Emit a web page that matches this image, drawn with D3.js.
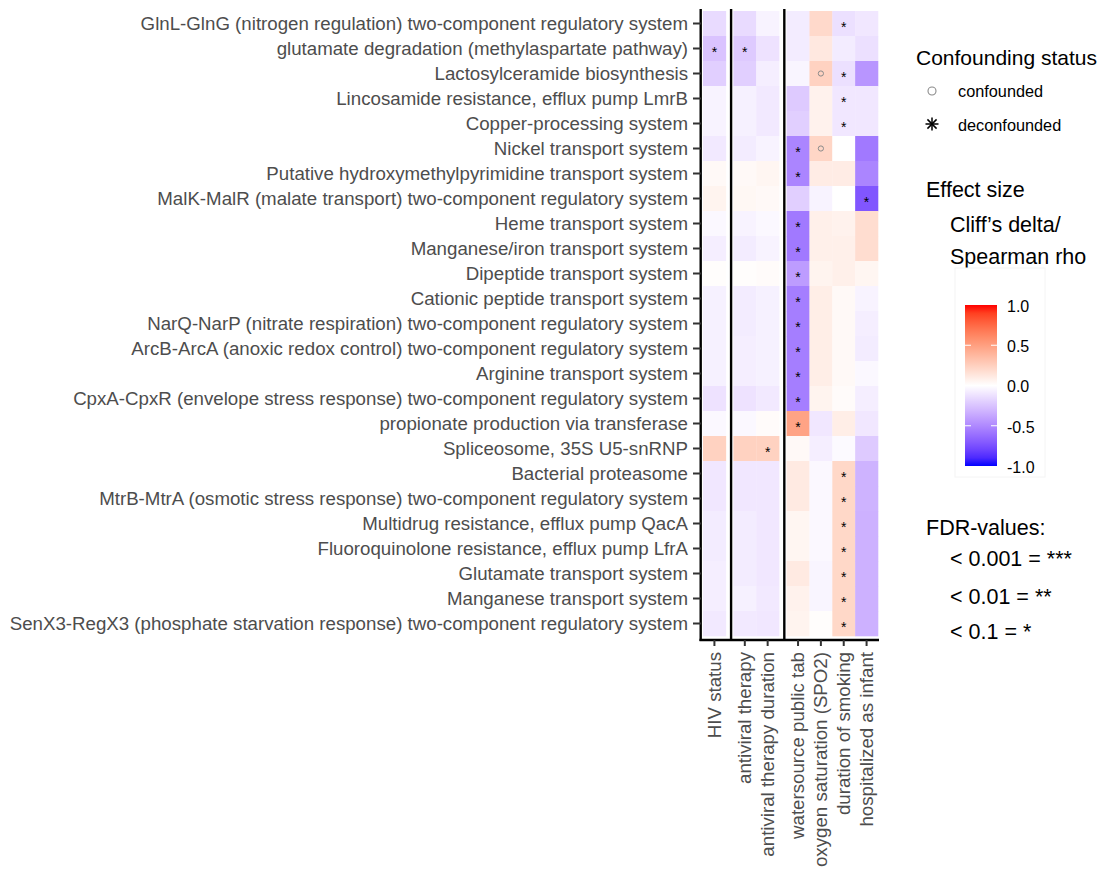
<!DOCTYPE html>
<html>
<head>
<meta charset="utf-8">
<script src="https://cdn.jsdelivr.net/npm/d3@7"></script>
<style>
  body { margin: 0; background: #fff; }
  text { font-family: "Liberation Sans", Arial, Helvetica, sans-serif; }
</style>
</head>
<body>
<div id="chart"></div>
<script>
var rowLabels = [
  "GlnL-GlnG (nitrogen regulation) two-component regulatory system",
  "glutamate degradation (methylaspartate pathway)",
  "Lactosylceramide biosynthesis",
  "Lincosamide resistance, efflux pump LmrB",
  "Copper-processing system",
  "Nickel transport system",
  "Putative hydroxymethylpyrimidine transport system",
  "MalK-MalR (malate transport) two-component regulatory system",
  "Heme transport system",
  "Manganese/iron transport system",
  "Dipeptide transport system",
  "Cationic peptide transport system",
  "NarQ-NarP (nitrate respiration) two-component regulatory system",
  "ArcB-ArcA (anoxic redox control) two-component regulatory system",
  "Arginine transport system",
  "CpxA-CpxR (envelope stress response) two-component regulatory system",
  "propionate production via transferase",
  "Spliceosome, 35S U5-snRNP",
  "Bacterial proteasome",
  "MtrB-MtrA (osmotic stress response) two-component regulatory system",
  "Multidrug resistance, efflux pump QacA",
  "Fluoroquinolone resistance, efflux pump LfrA",
  "Glutamate transport system",
  "Manganese transport system",
  "SenX3-RegX3 (phosphate starvation response) two-component regulatory system"
];

var colLabels = [
  "HIV status",
  "antiviral therapy",
  "antiviral therapy duration",
  "watersource public tab",
  "oxygen saturation (SPO2)",
  "duration of smoking",
  "hospitalized as infant"
];

// facet panel of each column
var colGroups = [0, 1, 1, 2, 2, 2, 2];

// effect size (Cliff's delta / Spearman rho), one row per feature, columns as colLabels
var effect = [
  [-0.15, -0.15, -0.05, -0.08,  0.20, -0.13, -0.10],
  [-0.25, -0.22, -0.12, -0.08,  0.12, -0.08, -0.13],
  [-0.20, -0.20, -0.07, -0.04,  0.24, -0.13, -0.45],
  [-0.05, -0.06, -0.09, -0.22,  0.07, -0.10, -0.10],
  [-0.05, -0.06, -0.09, -0.20,  0.07, -0.10, -0.10],
  [-0.09, -0.08, -0.05, -0.52,  0.22,  0.00, -0.57],
  [ 0.03,  0.03,  0.05, -0.52,  0.10,  0.10, -0.52],
  [ 0.06,  0.04,  0.03, -0.20, -0.05,  0.00, -0.72],
  [-0.03, -0.05, -0.03, -0.57,  0.08,  0.07,  0.18],
  [-0.07, -0.08, -0.05, -0.57,  0.08,  0.08,  0.18],
  [ 0.01,  0.01,  0.02, -0.42,  0.06,  0.08,  0.05],
  [-0.06, -0.08, -0.06, -0.55,  0.09,  0.03, -0.05],
  [-0.06, -0.08, -0.06, -0.55,  0.09,  0.03, -0.07],
  [-0.06, -0.07, -0.06, -0.55,  0.09,  0.03, -0.08],
  [-0.06, -0.07, -0.06, -0.55,  0.09,  0.03, -0.03],
  [-0.12, -0.12, -0.09, -0.55,  0.06,  0.02, -0.07],
  [-0.03, -0.03,  0.02,  0.48, -0.10,  0.09, -0.10],
  [ 0.24,  0.24,  0.24,  0.03, -0.07, -0.02, -0.22],
  [-0.10, -0.10, -0.10,  0.11, -0.03,  0.21, -0.32],
  [-0.10, -0.10, -0.10,  0.11, -0.03,  0.21, -0.32],
  [-0.08, -0.08, -0.10,  0.05, -0.03,  0.21, -0.33],
  [-0.08, -0.08, -0.10,  0.05, -0.03,  0.21, -0.33],
  [-0.07, -0.08, -0.10,  0.11, -0.04,  0.21, -0.33],
  [-0.07, -0.06, -0.09,  0.07, -0.04,  0.21, -0.33],
  [-0.09, -0.09, -0.10,  0.06,  0.01,  0.21, -0.33]
];

// [row, column] of significant cells
var deconfounded = [
  [0, 5], [1, 0], [1, 1], [2, 5], [3, 5], [4, 5], [5, 3], [6, 3], [7, 6],
  [8, 3], [9, 3], [10, 3], [11, 3], [12, 3], [13, 3], [14, 3], [15, 3], [16, 3],
  [17, 2], [18, 5], [19, 5], [20, 5], [21, 5], [22, 5], [23, 5], [24, 5]
];
var confounded = [[2, 4], [5, 4]];

var legendTicks = [1.0, 0.5, 0.0, -0.5, -1.0];
var fdrLabels = ["< 0.001 = ***", "< 0.01 = **", "< 0.1 = *"];

// --
var W = 1097, H = 870;
var svg = d3.select("#chart").append("svg")
            .attr("width", W)
            .attr("height", H);

var gap = 0.33;
var slot = function(j) { return j + colGroups[j] * gap; };

var x = d3.scaleLinear()
          .domain([0, colLabels.length + 2 * gap])
          .range([703, 878]);
var cw = x(1) - x(0);

var y = d3.scaleBand()
          .domain(rowLabels)
          .range([11, 636]);

var color = d3.scaleLinear()
              .domain([-1, 0, 1])
              .range(["blue", "white", "red"])
              .interpolate(d3.interpolateLab);

// --
var cells = [];
effect.forEach(function(row, i) {
  row.forEach(function(v, j) {
    cells.push({ row: rowLabels[i], col: j, value: v });
  });
});

svg.selectAll("rect.cell")
   .data(cells)
   .enter()
   .append("rect")
   .attr("class", "cell")
   .attr("x", function(d) { return x(slot(d.col)); })
   .attr("y", function(d) { return y(d.row); })
   .attr("width", cw + 0.3)
   .attr("height", y.bandwidth() + 0.3)
   .attr("fill", function(d) { return color(d.value); });

// -- markers
svg.selectAll("text.star")
   .data(deconfounded)
   .enter()
   .append("text")
   .attr("class", "star")
   .attr("x", function(d) { return x(slot(d[1]) + 0.5); })
   .attr("y", function(d) { return y(rowLabels[d[0]]) + y.bandwidth() / 2 + 8; })
   .attr("text-anchor", "middle")
   .style("font-size", "14px")
   .attr("fill", "#000")
   .text("*");

svg.selectAll("circle.conf")
   .data(confounded)
   .enter()
   .append("circle")
   .attr("cx", function(d) { return x(slot(d[1]) + 0.5); })
   .attr("cy", function(d) { return y(rowLabels[d[0]]) + y.bandwidth() / 2; })
   .attr("r", 2.6)
   .attr("fill", "none")
   .attr("stroke", "#8a8a8a")
   .attr("stroke-width", 1);

// -- panel lines (one y axis line per facet)
var panelStarts = [0, 1, 3];
svg.selectAll("line.panel")
   .data(panelStarts)
   .enter()
   .append("line")
   .attr("x1", function(j) { return x(slot(j)) - 2.3; })
   .attr("x2", function(j) { return x(slot(j)) - 2.3; })
   .attr("y1", 9)
   .attr("y2", 641)
   .attr("stroke", "black")
   .attr("stroke-width", 2.4);

// bottom axis line
svg.append("line")
   .attr("x1", x(0) - 3.5)
   .attr("x2", x(slot(6) + 1) + 1)
   .attr("y1", 640)
   .attr("y2", 640)
   .attr("stroke", "black")
   .attr("stroke-width", 2.4);

// -- y ticks + labels
var yt = svg.selectAll("g.ytick")
            .data(rowLabels)
            .enter()
            .append("g")
            .attr("transform", function(d) { return "translate(0," + (y(d) + y.bandwidth() / 2) + ")"; });
yt.append("line")
  .attr("x1", 693)
  .attr("x2", 701)
  .attr("stroke", "#333")
  .attr("stroke-width", 2);
yt.append("text")
  .attr("x", 688)
  .attr("dy", "0.34em")
  .attr("text-anchor", "end")
  .attr("fill", "#4d4d4d")
  .style("font-size", "18.7px")
  .text(function(d) { return d; });

// -- x ticks + labels
var xt = svg.selectAll("g.xtick")
            .data(colLabels)
            .enter()
            .append("g")
            .attr("transform", function(d, j) { return "translate(" + x(slot(j) + 0.5) + ",640)"; });
xt.append("line")
  .attr("y1", 0)
  .attr("y2", 6)
  .attr("stroke", "#333")
  .attr("stroke-width", 2);
xt.append("text")
  .attr("transform", "translate(0,12) rotate(-90)")
  .attr("dy", "0.34em")
  .attr("text-anchor", "end")
  .attr("fill", "#4d4d4d")
  .style("font-size", "18.7px")
  .text(function(d) { return d; });

// -- legend: confounding status
var lg = svg.append("g");
lg.append("text")
  .attr("x", 916).attr("y", 65)
  .style("font-size", "21px")
  .text("Confounding status");
lg.append("circle")
  .attr("cx", 932).attr("cy", 91).attr("r", 4)
  .attr("fill", "none").attr("stroke", "#8a8a8a").attr("stroke-width", 1.1);
lg.append("text")
  .attr("x", 958).attr("y", 97)
  .style("font-size", "16.3px")
  .text("confounded");
[0, 45, 90, 135].forEach(function(a) {
  lg.append("line")
    .attr("x1", -6.5).attr("x2", 6.5)
    .attr("transform", "translate(932,124) rotate(" + a + ")")
    .attr("stroke", "#000").attr("stroke-width", 1.5);
});
lg.append("text")
  .attr("x", 958).attr("y", 131)
  .style("font-size", "16.3px")
  .text("deconfounded");

// -- legend: effect size
lg.append("text").attr("x", 926).attr("y", 197).style("font-size", "21.5px").text("Effect size");
lg.append("text").attr("x", 950).attr("y", 232).style("font-size", "21.5px").text("Cliff\u2019s delta/");
lg.append("text").attr("x", 950).attr("y", 264).style("font-size", "21.5px").text("Spearman rho");

lg.append("rect")
  .attr("x", 955).attr("y", 268).attr("width", 90).attr("height", 209)
  .attr("fill", "white").attr("stroke", "#f4f4f4").attr("stroke-width", 1);

var cb = d3.scaleLinear().domain([-1, 1]).range([466, 305]);
var defs = svg.append("defs");
var grad = defs.append("linearGradient")
               .attr("id", "cbar")
               .attr("x1", 0).attr("y1", 1).attr("x2", 0).attr("y2", 0);
d3.range(-1, 1.001, 0.1).forEach(function(v) {
  grad.append("stop")
      .attr("offset", ((v + 1) / 2 * 100) + "%")
      .attr("stop-color", color(v));
});
lg.append("rect")
  .attr("x", 965).attr("y", cb(1)).attr("width", 32).attr("height", cb(-1) - cb(1))
  .attr("fill", "url(#cbar)");

lg.selectAll("g.cbt")
  .data(legendTicks)
  .enter()
  .append("g")
  .each(function(v) {
    var g = d3.select(this);
    if (Math.abs(v) < 1) {
      g.append("line").attr("x1", 965).attr("x2", 971).attr("y1", cb(v)).attr("y2", cb(v))
       .attr("stroke", "white").attr("stroke-width", 1);
      g.append("line").attr("x1", 991).attr("x2", 997).attr("y1", cb(v)).attr("y2", cb(v))
       .attr("stroke", "white").attr("stroke-width", 1);
    }
    g.append("text")
     .attr("x", 1007).attr("y", cb(v) + 1).attr("dy", "0.36em")
     .style("font-size", "16px")
     .text(d3.format(".1f")(v).replace("\u2212", "-"));
  });

// -- legend: FDR
lg.append("text").attr("x", 926).attr("y", 535).style("font-size", "21.5px").text("FDR-values:");
lg.selectAll("text.fdr")
  .data(fdrLabels)
  .enter()
  .append("text")
  .attr("x", 950)
  .attr("y", function(d, i) { return [566, 604, 639][i]; })
  .style("font-size", "21.5px")
  .text(function(d) { return d; });
</script>
</body>
</html>
